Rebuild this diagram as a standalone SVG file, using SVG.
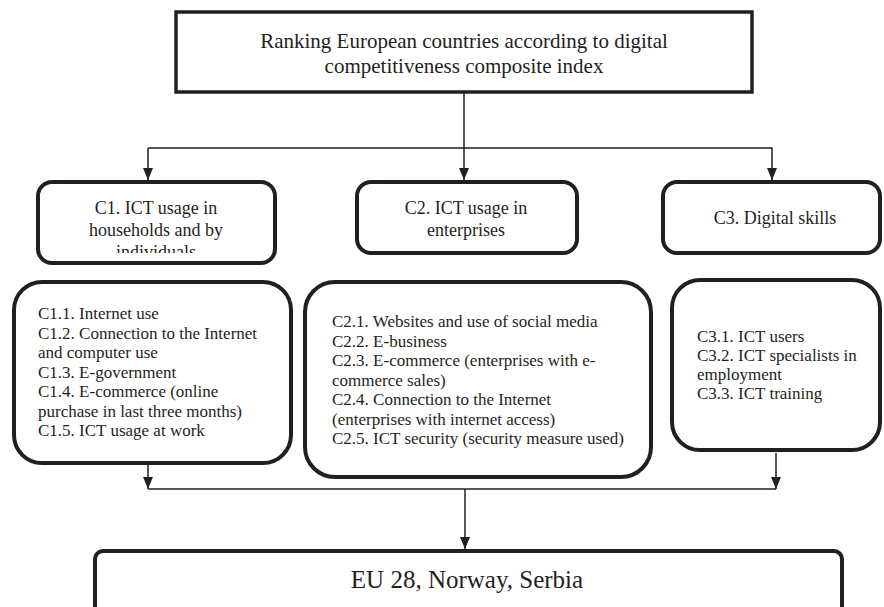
<svg xmlns="http://www.w3.org/2000/svg" width="884" height="607" viewBox="0 0 884 607" font-family="'Liberation Serif', 'Times New Roman', Tinos, 'DejaVu Serif', serif">
<style>
.box{fill:#fff;stroke:#231f20;stroke-width:4}
.top{fill:#fff;stroke:#231f20;stroke-width:3.5}
.ln{fill:none;stroke:#231f20;stroke-width:1.5}
text{font-family:'Liberation Serif','Times New Roman',Tinos,'DejaVu Serif',serif;fill:#231f20}
.h{font-size:18px;text-anchor:middle}
.b{font-size:17px}
</style>
<defs>
<marker id="arr" viewBox="0 0 12 10" markerWidth="12" markerHeight="10" refX="12" refY="5" orient="auto" markerUnits="userSpaceOnUse">
<path d="M0,0 L12,5 L0,10 z" fill="#231f20"/>
</marker>
<clipPath id="c1clip"><rect x="0" y="160" width="884" height="93"/></clipPath>
</defs>
<rect width="884" height="607" fill="#fff"/>
<g id="connectors">
<line class="ln" x1="464" y1="92" x2="464" y2="180" marker-end="url(#arr)"/>
<polyline class="ln" points="148,148 772,148 772,180" marker-end="url(#arr)"/>
<line class="ln" x1="148" y1="148" x2="148" y2="180" marker-end="url(#arr)"/>
<line class="ln" x1="148" y1="465" x2="148" y2="489" marker-end="url(#arr)"/>
<line class="ln" x1="776" y1="453" x2="776" y2="489" marker-end="url(#arr)"/>
<line class="ln" x1="148" y1="489" x2="776" y2="489"/>
<line class="ln" x1="465" y1="489" x2="465" y2="549" marker-end="url(#arr)"/>
</g>
<g id="top">
<rect class="top" x="176" y="12" width="576" height="80"/>
<text x="464" y="48" font-size="21" text-anchor="middle">Ranking European countries according to digital</text>
<text x="464" y="73" font-size="21" text-anchor="middle">competitiveness composite index</text>
</g>
<g id="c1">
<rect class="box" x="38" y="182" width="237" height="81" rx="14"/>
<g clip-path="url(#c1clip)">
<text class="h" x="156" y="214">C1. ICT usage in</text>
<text class="h" x="156" y="236">households and by</text>
<text class="h" x="156" y="258">individuals</text>
</g>
</g>
<g id="c2">
<rect class="box" x="357" y="182" width="220" height="71" rx="14"/>
<text class="h" x="466" y="214">C2. ICT usage in</text>
<text class="h" x="466" y="236">enterprises</text>
</g>
<g id="c3">
<rect class="box" x="663" y="182" width="217" height="71" rx="14"/>
<text class="h" x="775" y="224">C3. Digital skills</text>
</g>
<g id="c1x">
<rect class="box" x="14" y="282" width="277" height="181" rx="28"/>
<text class="b" x="38" y="319">C1.1. Internet use</text>
<text class="b" x="38" y="338.5">C1.2. Connection to the Internet</text>
<text class="b" x="38" y="358">and computer use</text>
<text class="b" x="38" y="377.5">C1.3. E-government</text>
<text class="b" x="38" y="397">C1.4. E-commerce (online</text>
<text class="b" x="38" y="416.5">purchase in last three months)</text>
<text class="b" x="38" y="436">C1.5. ICT usage at work</text>
</g>
<g id="c2x">
<rect class="box" x="305" y="282" width="346" height="195" rx="30"/>
<text class="b" x="332" y="327">C2.1. Websites and use of social media</text>
<text class="b" x="332" y="346.5">C2.2. E-business</text>
<text class="b" x="332" y="366">C2.3. E-commerce (enterprises with e-</text>
<text class="b" x="332" y="385.5">commerce sales)</text>
<text class="b" x="332" y="405">C2.4. Connection to the Internet</text>
<text class="b" x="332" y="424.5">(enterprises with internet access)</text>
<text class="b" x="332" y="444">C2.5. ICT security (security measure used)</text>
</g>
<g id="c3x">
<rect class="box" x="672" y="280" width="208" height="170" rx="28"/>
<text class="b" x="697" y="342">C3.1. ICT users</text>
<text class="b" x="697" y="361">C3.2. ICT specialists in</text>
<text class="b" x="697" y="380">employment</text>
<text class="b" x="697" y="399">C3.3. ICT training</text>
</g>
<g id="bottom">
<rect class="box" x="95" y="551" width="747" height="80" rx="8"/>
<text x="467" y="588" font-size="25" text-anchor="middle">EU 28, Norway, Serbia</text>
</g>
</svg>
